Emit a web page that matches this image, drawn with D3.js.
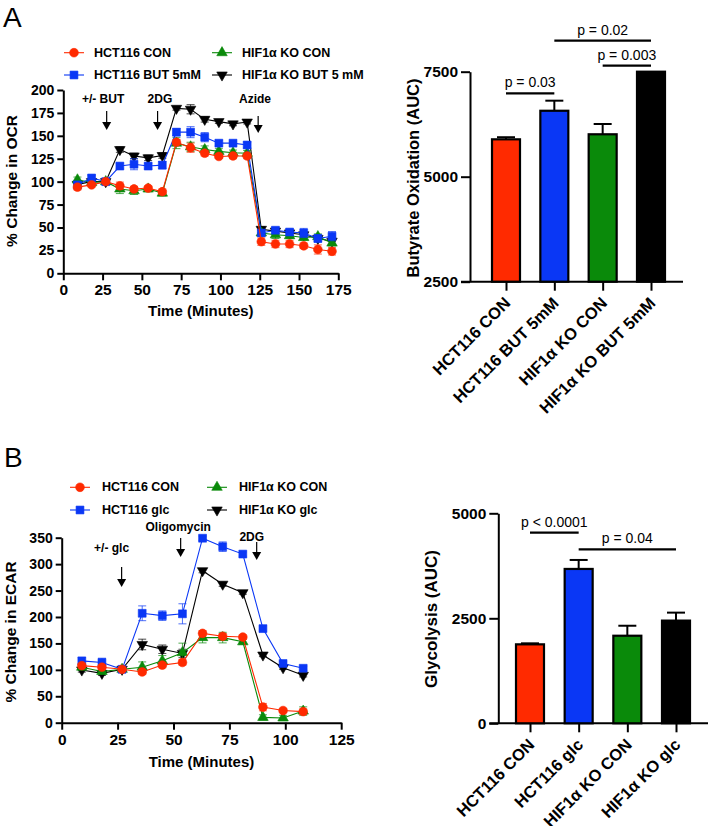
<!DOCTYPE html>
<html><head><meta charset="utf-8">
<script src="https://cdn.jsdelivr.net/npm/d3@7"></script>
<style>
body{margin:0;background:#fff}
svg{display:block}
text{font-family:"Liberation Sans",Arial,Helvetica,sans-serif}
</style></head>
<body><svg id="c" width="708" height="826"></svg>
<script>
// ---------- DATA ----------
const seriesNamesA = ["HCT116 CON","HCT116 BUT 5mM","HIF1α KO CON","HIF1α KO BUT 5 mM"];
const timeA = [9,18,27,36,45,54,63,72,81,90,99,108,117,126,135,144,153,162,171];
const hctConA = [94,96.5,100,95.5,92,93,89,143,137,131,127.5,128,128,34.5,32,32,30,26,24];
const hctButA = [96.5,104,100,117,119,117,118,154,154,148.5,142,142,140,44,47,45,44,38,40.5];
const koConA  = [102,99,100,92,90,92,87.5,142,138,135,133,131.5,131,44,42,41,39,40,33];
const koButA  = [97,100,100,135,128,126,128.5,180,179,168,165.5,163,165,48,46,44,42,38,35];
const hctConAErr = [3,2,1,4,3,2,3,3,5,3,2,3,3,4,4,4,3,5,4];
const hctButAErr = [3,3,1,3,6,3,4,4,6,5,3,2,3,3,3,3,5,4,5];
const koConAErr  = [3,2,1,5,4,3,3,6,5,4,3,3,3,3,4,3,3,3,3];
const koButAErr  = [3,2,1,3,3,3,3,2,5,3,2,2,2,3,3,3,3,3,3];
const xTicksA = [0,25,50,75,100,125,150,175];
const yTicksA = [0,25,50,75,100,125,150,175,200];
const annotA = [{t:27.6,label:"+/- BUT",lx:25.3},{t:60,label:"2DG",lx:61.5},{t:124,label:"Azide",lx:122}];

const barCatsA = ["HCT116 CON","HCT116 BUT 5mM","HIF1α KO CON","HIF1α KO BUT 5mM"];
const barValsA = [5890,6570,6010,7500];
const barErrA  = [50,240,245,0];
const barTicksA = [2500,5000,7500];
const sigA = [{a:0,b:1,y:93.3,label:"p = 0.03"},{a:1,b:3,y:40.7,label:"p = 0.02"},{a:2,b:3,y:65.7,label:"p = 0.003"}];

const seriesNamesB = ["HCT116 CON","HCT116 glc","HIF1α KO CON","HIF1α KO glc"];
const timeB = [9,18,27,36,45,54,63,72,81,90,99,108];
const hctConB = [108,105,101,96,109,114,169,163.5,162,29.5,23,21];
const hctGlcB = [117,114,101,207,202.5,206,349,333,319,178,112,103];
const koConB  = [105,97,101,105,117,132.5,161,161,153,10,9,22];
const koGlcB  = [99.7,93.4,101,148,139,131,287.6,262,246,128,104,89.6];
const hctConBErr = [4,4,3,5,5,5,5,5,4,7,4,5];
const hctGlcBErr = [6,8,5,14,9,19,4,9,4,5,4,4];
const koConBErr  = [5,5,3,10,10,18,10,10,5,5,5,8];
const koGlcBErr  = [4,4,3,10,8,8,4,4,3,3,3,3];
const xTicksB = [0,25,50,75,100,125];
const yTicksB = [0,50,100,150,200,250,300,350];
const annotB = [{t:26.8,label:"+/- glc",lx:22.3,ly:548,y1:567,y2:587},{t:53.2,label:"Oligomycin",lx:52.1,ly:527,y1:538,y2:557},{t:87.2,label:"2DG",lx:85,ly:537,y1:542,y2:560}];

const barCatsB = ["HCT116 CON","HCT116 glc","HIF1α KO CON","HIF1α KO glc"];
const barValsB = [1880,3675,2085,2445];
const barErrB  = [24,214,238,190];
const barTicksB = [0,2500,5000];
const sigB = [{a:0,b:1,y:532.7,label:"p < 0.0001"},{a:1,b:3,y:549.3,label:"p = 0.04"}];

const colors = ["#ff2a00","#0a37f5","#0a8a0a","#000000"];
const shapes = ["circle","square","triUp","triDown"];

// ---------- DRAW ----------
const svg = d3.select("#c");

function marker(g, shape, x, y, color){
  let sym, rot=0;
  if(shape==="circle") sym=d3.symbol(d3.symbolCircle,60);
  else if(shape==="square") sym=d3.symbol(d3.symbolSquare,62);
  else { sym=d3.symbol(d3.symbolTriangle,48); if(shape==="triDown") rot=180; }
  g.append("path").attr("d",sym()).attr("transform",`translate(${x},${y}) rotate(${rot})`)
   .attr("fill",color).attr("stroke",color).attr("stroke-width",0.6);
}

function lineChart(cfg){
  const {x,y,time,series,errs,xTicks,yTicks,ytitle,ytitleY,xTitleY,legend,annots} = cfg;
  const g = svg.append("g");
  const ya = d3.axisLeft(y).tickValues(yTicks).tickSize(6).tickSizeOuter(0).tickPadding(3);
  const gy = g.append("g").attr("transform",`translate(${x.range()[0]},0)`).call(ya);
  gy.selectAll("text").attr("font-size",14).attr("font-weight","bold").attr("fill","#000");
  const xa = d3.axisBottom(x).tickValues(xTicks).tickSize(7).tickSizeOuter(0).tickPadding(4);
  const gx = g.append("g").attr("transform",`translate(0,${y.range()[0]})`).call(xa);
  gx.selectAll("text").attr("font-size",15.5).attr("font-weight","bold").attr("fill","#000");
  [gx,gy].forEach(a=>{a.selectAll("path,line").attr("stroke","#000").attr("stroke-width",2);});
  g.append("text").attr("transform",`translate(${cfg.ytitleX},${ytitleY}) rotate(-90)`)
   .attr("text-anchor","middle").attr("dominant-baseline","central")
   .attr("font-size",15.5).attr("font-weight","bold").text(ytitle);
  g.append("text").attr("x",(x.range()[0]+x.range()[1])/2).attr("y",xTitleY)
   .attr("text-anchor","middle").attr("font-size",15).attr("font-weight","bold").text("Time (Minutes)");
  annots.forEach(a=>{
    g.append("text").attr("x",x(a.lx)).attr("y",a.ly).attr("text-anchor","middle")
     .attr("dominant-baseline","central").attr("font-size",12).attr("font-weight","bold").text(a.label);
    g.append("line").attr("x1",x(a.t)).attr("x2",x(a.t)).attr("y1",a.y1).attr("y2",a.y2-6)
     .attr("stroke","#000").attr("stroke-width",1.2);
    g.append("path").attr("d",`M${x(a.t)-4.5},${a.y2-8} L${x(a.t)+4.5},${a.y2-8} L${x(a.t)},${a.y2} Z`).attr("fill","#000");
  });
  const order = [3,2,1,0];
  order.forEach(i=>{
    const vals = series[i], er = errs[i], col = colors[i];
    const sg = g.append("g");
    const pts = time.map((t,k)=>[t,vals[k],er[k]]);
    sg.append("path").datum(pts).attr("fill","none").attr("stroke",col).attr("stroke-width",1.1)
      .attr("d",d3.line().x(d=>x(d[0])).y(d=>y(d[1])));
    pts.forEach(d=>{
      const cx=x(d[0]);
      sg.append("line").attr("x1",cx).attr("x2",cx).attr("y1",y(d[1]-d[2])).attr("y2",y(d[1]+d[2])).attr("stroke",col).attr("stroke-width",1).attr("opacity",0.7);
      [d[1]-d[2],d[1]+d[2]].forEach(v=>sg.append("line").attr("x1",cx-4).attr("x2",cx+4).attr("y1",y(v)).attr("y2",y(v)).attr("stroke",col).attr("stroke-width",1).attr("opacity",0.7));
      marker(sg,shapes[i],cx,y(d[1]),col);
    });
  });
  legend.items.forEach((name,i)=>{
    const col = i%2, row = Math.floor(i/2);
    const idx = [0,2,1,3][i];
    const lx = legend.cols[col], ly = legend.rows[row];
    const c = colors[idx];
    g.append("line").attr("x1",lx).attr("x2",lx+legend.lineW).attr("y1",ly).attr("y2",ly).attr("stroke",c).attr("stroke-width",1.1);
    marker(g,shapes[idx],lx+legend.lineW/2,ly,c);
    g.append("text").attr("x",lx+legend.textOff).attr("y",ly).attr("dominant-baseline","central")
     .attr("font-size",12.5).attr("font-weight","bold").text(name);
  });
}

const xA = d3.scaleLinear([0,175],[63.3,338.3]);
const yA = d3.scaleLinear([0,200],[273.3,90]);
lineChart({x:xA,y:yA,time:timeA,series:[hctConA,hctButA,koConA,koButA],
  errs:[hctConAErr,hctButAErr,koConAErr,koButAErr],xTicks:xTicksA,yTicks:yTicksA,
  ytitle:"% Change in OCR",ytitleX:11,ytitleY:181,xTitleY:316,
  legend:{items:[seriesNamesA[0],seriesNamesA[2],seriesNamesA[1],seriesNamesA[3]],cols:[64,212],rows:[52.7,75],lineW:20,textOff:30},
  annots:annotA.map(a=>({t:a.t,label:a.label,lx:a.lx,ly:99,y1:a.label==="Azide"?116:111,y2:a.label==="Azide"?133:130}))});

const xB = d3.scaleLinear([0,125],[61.7,341.2]);
const yB = d3.scaleLinear([0,350],[722.7,537.7]);
lineChart({x:xB,y:yB,time:timeB,series:[hctConB,hctGlcB,koConB,koGlcB],
  errs:[hctConBErr,hctGlcBErr,koConBErr,koGlcBErr],xTicks:xTicksB,yTicks:yTicksB,
  ytitle:"% Change in ECAR",ytitleX:10,ytitleY:632,xTitleY:767,
  legend:{items:[seriesNamesB[0],seriesNamesB[2],seriesNamesB[1],seriesNamesB[3]],cols:[70,207],rows:[487.3,510],lineW:20,textOff:32},
  annots:annotB});

function barChart(cfg){
  const {x,y,cats,vals,errs,ticks,ytitle,ytitleX,ytitleY,axisEnd,sigs,labelSize} = cfg;
  const g = svg.append("g");
  const base = y.range()[0];
  const ya = d3.axisLeft(y).tickValues(ticks).tickFormat(d3.format("d")).tickSize(9).tickSizeOuter(0).tickPadding(3);
  const gy = g.append("g").attr("transform",`translate(${cfg.axisX},0)`).call(ya);
  gy.selectAll("text").attr("font-size",15.5).attr("font-weight","bold").attr("fill","#000");
  gy.selectAll("path,line").attr("stroke","#000").attr("stroke-width",2);
  g.append("line").attr("x1",cfg.axisX-9).attr("x2",axisEnd).attr("y1",base).attr("y2",base).attr("stroke","#000").attr("stroke-width",2);
  const xa = d3.axisBottom(x).tickSize(9).tickSizeOuter(0).tickFormat("");
  const gx = g.append("g").attr("transform",`translate(0,${base})`).call(xa);
  gx.select(".domain").remove();
  gx.selectAll("line").attr("stroke","#000").attr("stroke-width",2);
  cats.forEach((c,i)=>{
    g.append("text").attr("transform",`translate(${x(c)-3},${base+14}) rotate(-45)`)
     .attr("text-anchor","end").attr("dominant-baseline","hanging")
     .attr("font-size",labelSize).attr("font-weight","bold").text(c);
  });
  cats.forEach((c,i)=>{
    const cx = x(c), w = 28;
    if(errs[i]>0){
      g.append("line").attr("x1",cx).attr("x2",cx).attr("y1",y(vals[i])).attr("y2",y(vals[i]+errs[i])).attr("stroke","#000").attr("stroke-width",2);
      g.append("line").attr("x1",cx-9).attr("x2",cx+9).attr("y1",y(vals[i]+errs[i])).attr("y2",y(vals[i]+errs[i])).attr("stroke","#000").attr("stroke-width",2);
    }
    g.append("rect").attr("x",cx-w/2).attr("y",y(vals[i])).attr("width",w).attr("height",base-y(vals[i]))
     .attr("fill",colors[i]).attr("stroke","#000").attr("stroke-width",2.2);
  });
  g.append("text").attr("transform",`translate(${ytitleX},${ytitleY}) rotate(-90)`)
   .attr("text-anchor","middle").attr("dominant-baseline","central")
   .attr("font-size",cfg.ytitleSize).attr("font-weight","bold").text(ytitle);
  sigs.forEach(s=>{
    const x1=x(cats[s.a]), x2=x(cats[s.b]);
    g.append("line").attr("x1",x1).attr("x2",x2).attr("y1",s.y).attr("y2",s.y).attr("stroke","#000").attr("stroke-width",2.2);
    g.append("text").attr("x",(x1+x2)/2).attr("y",s.y-6).attr("text-anchor","middle")
     .attr("font-size",14).text(s.label);
  });
}

const xAB = d3.scalePoint(barCatsA,[506,651]);
const yAB = d3.scaleLinear([2500,7500],[281.7,71.7]);
barChart({x:xAB,y:yAB,cats:barCatsA,vals:barValsA,errs:barErrA,ticks:barTicksA,axisX:470,axisEnd:683,
  ytitle:"Butyrate Oxidation (AUC)",ytitleX:413,ytitleY:178,ytitleSize:16.5,sigs:sigA,labelSize:16.5});

const xBB = d3.scalePoint(barCatsB,[530,676]);
const yBB = d3.scaleLinear([0,5000],[723.3,513.3]);
barChart({x:xBB,y:yBB,cats:barCatsB,vals:barValsB,errs:barErrB,ticks:barTicksB,axisX:498.3,axisEnd:710,
  ytitle:"Glycolysis (AUC)",ytitleX:431.7,ytitleY:619,ytitleSize:17,sigs:sigB,labelSize:16.5});

svg.append("text").attr("x",3).attr("y",27).attr("font-size",28).text("A");
svg.append("text").attr("x",4).attr("y",467).attr("font-size",28).text("B");
</script></body></html>
